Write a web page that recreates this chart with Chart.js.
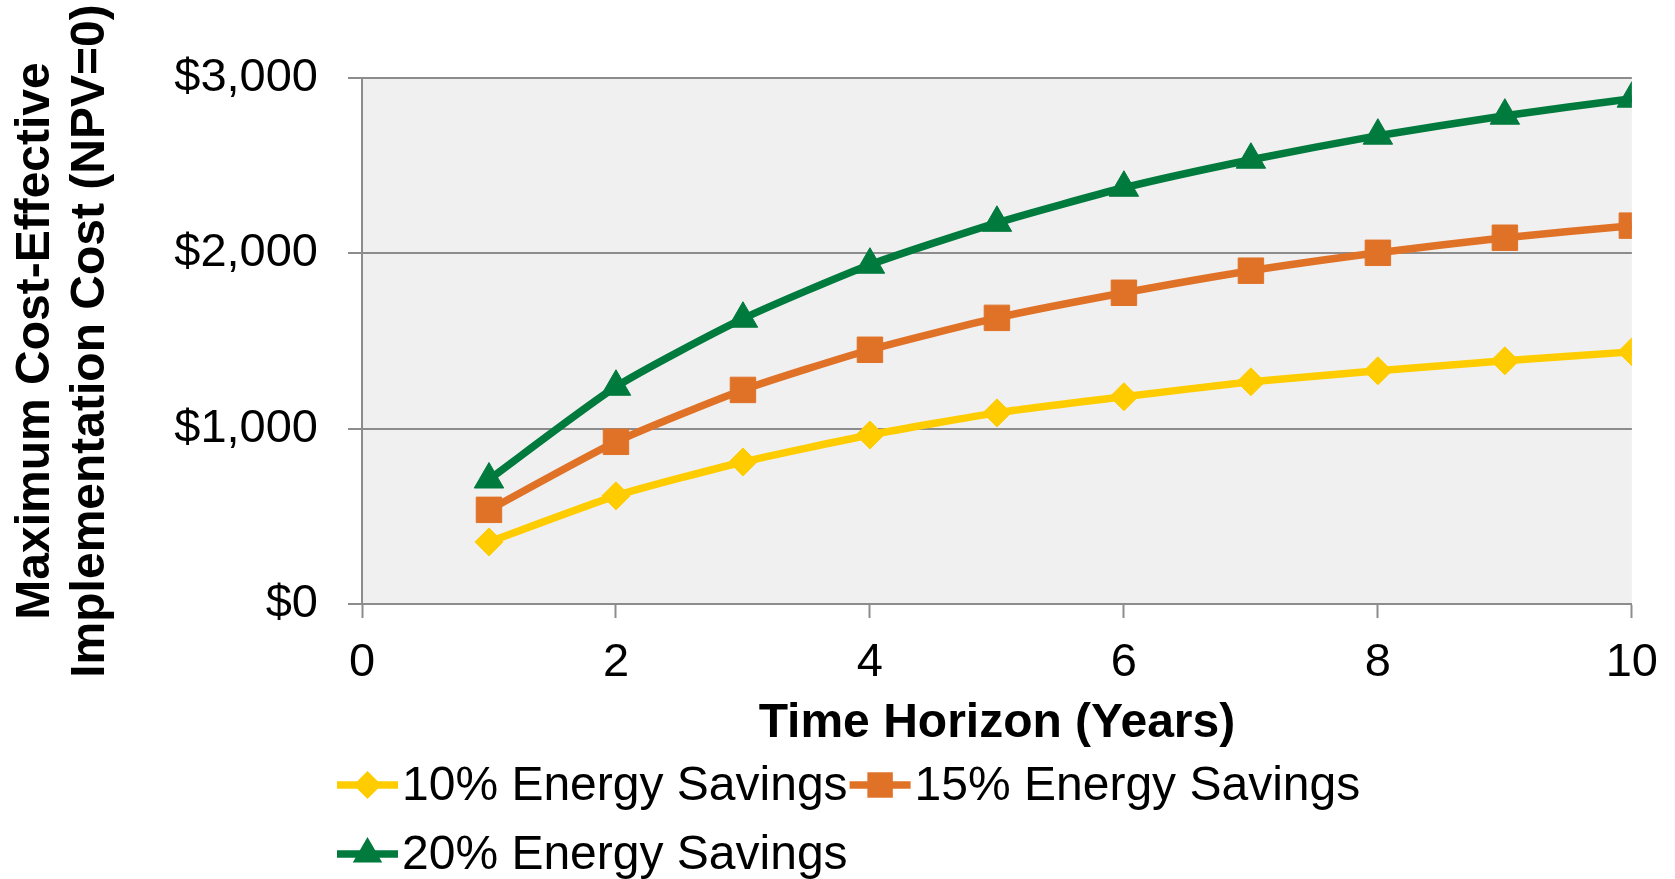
<!DOCTYPE html>
<html>
<head>
<meta charset="utf-8">
<title>Maximum Cost-Effective Implementation Cost</title>
<script src="https://cdn.jsdelivr.net/npm/chart.js@4.4.1/dist/chart.umd.min.js"></script>
<style>
  html, body { margin: 0; padding: 0; background: #ffffff; }
  #wrap { width: 1675px; height: 879px; position: relative; }
</style>
</head>
<body>
<div id="wrap"><canvas id="chart"></canvas></div>
<script>
// ========================
// Données
// ========================
const years = [1, 2, 3, 4, 5, 6, 7, 8, 9, 10];
const savings10 = [354, 617, 810, 964, 1090, 1182, 1267, 1330, 1387, 1438];
const savings15 = [537, 925, 1221, 1450, 1632, 1775, 1901, 2003, 2089, 2158];
const savings20 = [710, 1239, 1627, 1935, 2174, 2374, 2534, 2671, 2785, 2882];

const seriesLabels = ['10% Energy Savings', '15% Energy Savings', '20% Energy Savings'];
const xTickLabels = ['0', '2', '4', '6', '8', '10'];
const yTickLabels = ['$0', '$1,000', '$2,000', '$3,000'];

const FONT = '"Liberation Sans", Arial, Helvetica, sans-serif';
const GRID = '#8c8c8c';

const toPoints = vals => years.map((x, i) => ({ x: x, y: vals[i] }));

// Fond gris de la zone de tracé
const plotBackground = {
  id: 'plotBackground',
  beforeDraw(chart) {
    const { ctx, chartArea: a } = chart;
    ctx.save();
    ctx.fillStyle = '#f0f0f0';
    ctx.fillRect(a.left, a.top, a.right - a.left, a.bottom - a.top);
    ctx.restore();
  }
};

// Légende en bas (ligne + marqueur + texte, alignée à gauche)
const bottomLegend = {
  id: 'bottomLegend',
  afterDraw(chart) {
    const ctx = chart.ctx;
    const startX = chart.chartArea.left - 25;
    const startY = chart.chartArea.bottom + 181;
    ctx.save();
    ctx.font = '48px ' + FONT;
    ctx.textBaseline = 'middle';
    let x = startX, row = 0;
    chart.data.datasets.forEach(ds => {
      const w = 65 + ctx.measureText(ds.label).width;
      if (x + w > chart.width) { x = startX; row++; }
      const y = startY + row * 69;
      ctx.strokeStyle = ds.borderColor;
      ctx.lineWidth = 7.5;
      ctx.beginPath();
      ctx.moveTo(x, y);
      ctx.lineTo(x + 61, y);
      ctx.stroke();
      ctx.fillStyle = ds.pointBackgroundColor;
      Chart.helpers.drawPoint(ctx, {
        pointStyle: ds.pointStyle, radius: ds.pointRadius, rotation: 0, borderWidth: 0
      }, x + 30.5, y);
      ctx.fillStyle = '#000000';
      ctx.fillText(ds.label, x + 65, y + 2);
      x += w + 2;
    });
    ctx.restore();
  }
};

function serie(label, vals, color, style, radius) {
  return {
    label: label,
    data: toPoints(vals),
    borderColor: color,
    backgroundColor: color,
    borderWidth: 7.5,
    tension: 0.2,
    pointStyle: style,
    pointRadius: radius,
    pointHoverRadius: radius,
    pointBackgroundColor: color,
    pointBorderColor: color,
    pointBorderWidth: 1
  };
}

new Chart(document.getElementById('chart'), {
  type: 'line',
  data: {
    datasets: [
      serie(seriesLabels[0], savings10, '#ffcc00', 'rectRot', 14),
      serie(seriesLabels[1], savings15, '#e07228', 'rect', 18),
      serie(seriesLabels[2], savings20, '#007a3d', 'triangle', 17)
    ]
  },
  plugins: [plotBackground, bottomLegend],
  options: {
    responsive: true,
    maintainAspectRatio: false,
    animation: false,
    layout: { padding: { top: 78, right: 41, bottom: 125, left: 0 } },
    plugins: {
      legend: { display: false },
      tooltip: { enabled: false }
    },
    scales: {
      x: {
        type: 'linear',
        min: 0,
        max: 10,
        afterFit: s => { s.height = 150; },
        afterBuildTicks: s => { s.ticks = xTickLabels.map(t => ({ value: Number(t) })); },
        ticks: {
          callback: (v, i) => xTickLabels[i],
          color: '#000000',
          font: { family: FONT, size: 47 },
          padding: 17,
          maxRotation: 0
        },
        grid: {
          drawOnChartArea: false,
          drawTicks: true,
          tickLength: 14,
          tickColor: GRID,
          tickWidth: 2
        },
        border: { display: true, color: GRID, width: 2 },
        title: {
          display: true,
          text: 'Time Horizon (Years)',
          color: '#000000',
          font: { family: FONT, size: 48, weight: 'bold' },
          padding: { top: 0, bottom: 1 }
        }
      },
      y: {
        min: 0,
        max: 3000,
        afterFit: s => { s.width = 362; },
        afterBuildTicks: s => { s.ticks = yTickLabels.map((t, i) => ({ value: i * 1000 })); },
        ticks: {
          callback: (v, i) => yTickLabels[i],
          color: '#000000',
          font: { family: FONT, size: 47 },
          padding: 30
        },
        grid: {
          color: GRID,
          lineWidth: 2,
          drawTicks: true,
          tickLength: 14,
          tickColor: GRID,
          tickWidth: 2
        },
        border: { display: true, color: GRID, width: 2 },
        title: {
          display: true,
          text: ['Maximum Cost-Effective', 'Implementation Cost (NPV=0)'],
          color: '#000000',
          font: { family: FONT, size: 48, weight: 'bold', lineHeight: 1.15 },
          padding: { top: 8, bottom: 0 }
        }
      }
    }
  }
});
</script>
</body>
</html>
